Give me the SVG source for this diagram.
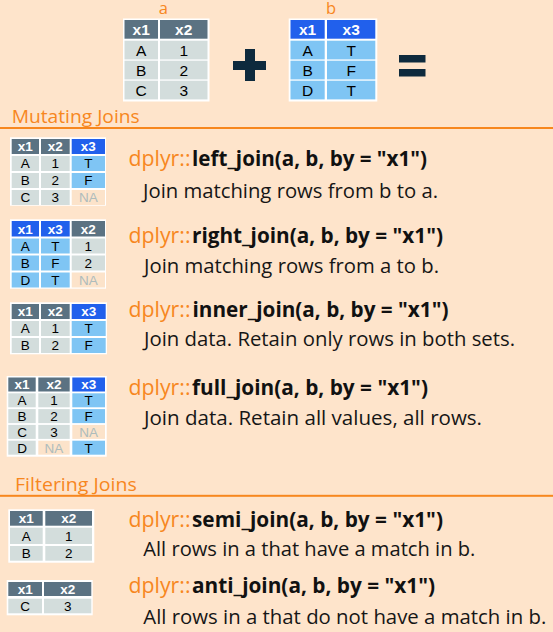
<svg xmlns="http://www.w3.org/2000/svg" width="553" height="632" viewBox="0 0 553 632">
<style>
.bgp{fill:#FEE4CB}
.w{fill:#FFFFFF}
.hg{fill:#5B7282}
.hb{fill:#2160EC}
.cg{fill:#D3DDDC}
.cb{fill:#7FC5F4}
.na{fill:#FCE3CA}
.op{fill:#F7871E}
.t{font-family:"Liberation Sans",Arial,sans-serif;text-anchor:middle}
.ht{fill:#FFFFFF;font-weight:bold}
.bt{fill:#000000}
.nt{fill:#AEBCBC}
.s{font-size:13.5px}
.l{font-size:15.5px}
.lab{font-family:"Open Sans","Noto Sans",sans-serif;font-size:16.5px;fill:#F7871E;text-anchor:middle}
.sec{font-family:"Open Sans","Noto Sans",sans-serif;font-size:19px;fill:#F7871E}
.pk{font-family:"Open Sans","Noto Sans",sans-serif;font-size:22px;fill:#F7871E}
.fn{font-family:"Open Sans","Noto Sans",sans-serif;font-size:22px;font-weight:bold;fill:#111111}
.ds{font-family:"Open Sans","Noto Sans",sans-serif;font-size:20px;fill:#161616}
.dk{fill:#0E2A3D}
</style>
<rect class="bgp" x="0" y="0" width="553" height="632"/>

<g id="top">
<text class="lab" x="163.3" y="13.5">a</text>
<text class="lab" x="331" y="13.5">b</text>
</g>

<g id="table-a">
<rect class="w" x="123" y="18.5" width="86.5" height="83"/>
<rect class="hg" x="124.5" y="20" width="33.5" height="18.7"/><rect class="hg" x="160" y="20" width="47.5" height="18.7"/>
<rect class="cg" x="124.5" y="40.7" width="33.5" height="18.7"/><rect class="cg" x="160" y="40.7" width="47.5" height="18.7"/>
<rect class="cg" x="124.5" y="60.7" width="33.5" height="18.7"/><rect class="cg" x="160" y="60.7" width="47.5" height="18.7"/>
<rect class="cg" x="124.5" y="80.7" width="33.5" height="18.7"/><rect class="cg" x="160" y="80.7" width="47.5" height="18.7"/>
<text class="t l ht" x="141.2" y="34.8">x1</text><text class="t l ht" x="183.7" y="34.8">x2</text>
<text class="t l bt" x="141.2" y="55.5">A</text><text class="t l bt" x="183.7" y="55.5">1</text>
<text class="t l bt" x="141.2" y="75.5">B</text><text class="t l bt" x="183.7" y="75.5">2</text>
<text class="t l bt" x="141.2" y="95.5">C</text><text class="t l bt" x="183.7" y="95.5">3</text>
</g>

<g id="plus"><rect class="dk" x="245" y="49" width="10" height="32"/><rect class="dk" x="233" y="61" width="33" height="9"/></g>

<g id="table-b">
<rect class="w" x="288.7" y="18.5" width="88.6" height="83"/>
<rect class="hb" x="290.5" y="20" width="34.2" height="18.7"/><rect class="hb" x="327" y="20" width="48.3" height="18.7"/>
<rect class="cb" x="290.5" y="40.7" width="34.2" height="18.7"/><rect class="cb" x="327" y="40.7" width="48.3" height="18.7"/>
<rect class="cb" x="290.5" y="60.7" width="34.2" height="18.7"/><rect class="cb" x="327" y="60.7" width="48.3" height="18.7"/>
<rect class="cb" x="290.5" y="80.7" width="34.2" height="18.7"/><rect class="cb" x="327" y="80.7" width="48.3" height="18.7"/>
<text class="t l ht" x="307.6" y="34.8">x1</text><text class="t l ht" x="351.2" y="34.8">x3</text>
<text class="t l bt" x="307.6" y="55.5">A</text><text class="t l bt" x="351.2" y="55.5">T</text>
<text class="t l bt" x="307.6" y="75.5">B</text><text class="t l bt" x="351.2" y="75.5">F</text>
<text class="t l bt" x="307.6" y="95.5">D</text><text class="t l bt" x="351.2" y="95.5">T</text>
</g>

<g id="equals"><rect class="dk" x="399" y="55" width="26.5" height="7.5"/><rect class="dk" x="399" y="69" width="26.5" height="7.5"/></g>

<g id="section-mutating">
<text class="sec" x="11.7" y="123.3" textLength="128" lengthAdjust="spacingAndGlyphs">Mutating Joins</text>
<rect class="op" x="0" y="127" width="553" height="2"/>
</g>

<g id="left-join">
<rect class="w" x="10" y="137.3" width="96" height="68.4"/>
<rect class="hg" x="11.7" y="139" width="27.3" height="15"/><rect class="hg" x="41" y="139" width="28.7" height="15"/><rect class="hb" x="71.7" y="139" width="33.3" height="15"/>
<rect class="cg" x="11.7" y="156" width="27.3" height="15"/><rect class="cg" x="41" y="156" width="28.7" height="15"/><rect class="cb" x="71.7" y="156" width="33.3" height="15"/>
<rect class="cg" x="11.7" y="173" width="27.3" height="15"/><rect class="cg" x="41" y="173" width="28.7" height="15"/><rect class="cb" x="71.7" y="173" width="33.3" height="15"/>
<rect class="cg" x="11.7" y="190" width="27.3" height="15"/><rect class="cg" x="41" y="190" width="28.7" height="15"/><rect class="na" x="71.7" y="190" width="33.3" height="15"/>
<text class="t s ht" x="25.3" y="151.3">x1</text><text class="t s ht" x="55.3" y="151.3">x2</text><text class="t s ht" x="88.3" y="151.3">x3</text>
<text class="t s bt" x="25.3" y="168.3">A</text><text class="t s bt" x="55.3" y="168.3">1</text><text class="t s bt" x="88.3" y="168.3">T</text>
<text class="t s bt" x="25.3" y="185.3">B</text><text class="t s bt" x="55.3" y="185.3">2</text><text class="t s bt" x="88.3" y="185.3">F</text>
<text class="t s bt" x="25.3" y="202.3">C</text><text class="t s bt" x="55.3" y="202.3">3</text><text class="t s nt" x="88.3" y="202.3">NA</text>
<text class="pk" x="128.5" y="166" textLength="62" lengthAdjust="spacingAndGlyphs">dplyr::</text>
<text class="fn" x="192" y="166" textLength="235" lengthAdjust="spacingAndGlyphs">left_join(a, b, by = "x1")</text>
<text class="ds" x="143" y="198" textLength="295" lengthAdjust="spacingAndGlyphs">Join matching rows from b to a.</text>
</g>

<g id="right-join">
<rect class="w" x="10" y="219.3" width="96" height="69.4"/>
<rect class="hb" x="11.7" y="221" width="27.3" height="15.5"/><rect class="hb" x="41" y="221" width="28.7" height="15.5"/><rect class="hg" x="71.7" y="221" width="33.3" height="15.5"/>
<rect class="cb" x="11.7" y="238.5" width="27.3" height="15"/><rect class="cb" x="41" y="238.5" width="28.7" height="15"/><rect class="cg" x="71.7" y="238.5" width="33.3" height="15"/>
<rect class="cb" x="11.7" y="255.5" width="27.3" height="15"/><rect class="cb" x="41" y="255.5" width="28.7" height="15"/><rect class="cg" x="71.7" y="255.5" width="33.3" height="15"/>
<rect class="cb" x="11.7" y="272.5" width="27.3" height="15"/><rect class="cb" x="41" y="272.5" width="28.7" height="15"/><rect class="na" x="71.7" y="272.5" width="33.3" height="15"/>
<text class="t s ht" x="25.3" y="233.5">x1</text><text class="t s ht" x="55.3" y="233.5">x3</text><text class="t s ht" x="88.3" y="233.5">x2</text>
<text class="t s bt" x="25.3" y="250.8">A</text><text class="t s bt" x="55.3" y="250.8">T</text><text class="t s bt" x="88.3" y="250.8">1</text>
<text class="t s bt" x="25.3" y="267.8">B</text><text class="t s bt" x="55.3" y="267.8">F</text><text class="t s bt" x="88.3" y="267.8">2</text>
<text class="t s bt" x="25.3" y="284.8">D</text><text class="t s bt" x="55.3" y="284.8">T</text><text class="t s nt" x="88.3" y="284.8">NA</text>
<text class="pk" x="128.5" y="243.3" textLength="62" lengthAdjust="spacingAndGlyphs">dplyr::</text>
<text class="fn" x="192" y="243.3" textLength="251" lengthAdjust="spacingAndGlyphs">right_join(a, b, by = "x1")</text>
<text class="ds" x="144" y="273.3" textLength="295" lengthAdjust="spacingAndGlyphs">Join matching rows from a to b.</text>
</g>

<g id="inner-join">
<rect class="w" x="10" y="302.3" width="97" height="52"/>
<rect class="hg" x="11.7" y="304" width="27.3" height="15"/><rect class="hg" x="41" y="304" width="28.7" height="15"/><rect class="hb" x="71.7" y="304" width="34" height="15"/>
<rect class="cg" x="11.7" y="321" width="27.3" height="15"/><rect class="cg" x="41" y="321" width="28.7" height="15"/><rect class="cb" x="71.7" y="321" width="34" height="15"/>
<rect class="cg" x="11.7" y="338" width="27.3" height="15"/><rect class="cg" x="41" y="338" width="28.7" height="15"/><rect class="cb" x="71.7" y="338" width="34" height="15"/>
<text class="t s ht" x="25.3" y="316.3">x1</text><text class="t s ht" x="55.3" y="316.3">x2</text><text class="t s ht" x="88.7" y="316.3">x3</text>
<text class="t s bt" x="25.3" y="333.3">A</text><text class="t s bt" x="55.3" y="333.3">1</text><text class="t s bt" x="88.7" y="333.3">T</text>
<text class="t s bt" x="25.3" y="350.3">B</text><text class="t s bt" x="55.3" y="350.3">2</text><text class="t s bt" x="88.7" y="350.3">F</text>
<text class="pk" x="128.5" y="316.7" textLength="62" lengthAdjust="spacingAndGlyphs">dplyr::</text>
<text class="fn" x="192.5" y="316.7" textLength="256" lengthAdjust="spacingAndGlyphs">inner_join(a, b, by = "x1")</text>
<text class="ds" x="144" y="345.7" textLength="371" lengthAdjust="spacingAndGlyphs">Join data. Retain only rows in both sets.</text>
</g>

<g id="full-join">
<rect class="w" x="6.7" y="376" width="100" height="80.7"/>
<rect class="hg" x="8.3" y="377.5" width="27.4" height="14"/><rect class="hg" x="38.3" y="377.5" width="31.4" height="14"/><rect class="hb" x="72.3" y="377.5" width="32.7" height="14"/>
<rect class="cg" x="8.3" y="393.3" width="27.4" height="14"/><rect class="cg" x="38.3" y="393.3" width="31.4" height="14"/><rect class="cb" x="72.3" y="393.3" width="32.7" height="14"/>
<rect class="cg" x="8.3" y="409.1" width="27.4" height="14"/><rect class="cg" x="38.3" y="409.1" width="31.4" height="14"/><rect class="cb" x="72.3" y="409.1" width="32.7" height="14"/>
<rect class="cg" x="8.3" y="424.9" width="27.4" height="14"/><rect class="cg" x="38.3" y="424.9" width="31.4" height="14"/><rect class="na" x="72.3" y="424.9" width="32.7" height="14"/>
<rect class="cg" x="8.3" y="440.7" width="27.4" height="14"/><rect class="na" x="38.3" y="440.7" width="31.4" height="14"/><rect class="cb" x="72.3" y="440.7" width="32.7" height="14"/>
<text class="t s ht" x="22" y="389.3">x1</text><text class="t s ht" x="54" y="389.3">x2</text><text class="t s ht" x="88.7" y="389.3">x3</text>
<text class="t s bt" x="22" y="405.1">A</text><text class="t s bt" x="54" y="405.1">1</text><text class="t s bt" x="88.7" y="405.1">T</text>
<text class="t s bt" x="22" y="420.9">B</text><text class="t s bt" x="54" y="420.9">2</text><text class="t s bt" x="88.7" y="420.9">F</text>
<text class="t s bt" x="22" y="436.7">C</text><text class="t s bt" x="54" y="436.7">3</text><text class="t s nt" x="88.7" y="436.7">NA</text>
<text class="t s bt" x="22" y="452.5">D</text><text class="t s nt" x="54" y="452.5">NA</text><text class="t s bt" x="88.7" y="452.5">T</text>
<text class="pk" x="128.5" y="395" textLength="62" lengthAdjust="spacingAndGlyphs">dplyr::</text>
<text class="fn" x="192" y="395" textLength="236" lengthAdjust="spacingAndGlyphs">full_join(a, b, by = "x1")</text>
<text class="ds" x="144" y="425" textLength="338" lengthAdjust="spacingAndGlyphs">Join data. Retain all values, all rows.</text>
</g>

<g id="section-filtering">
<text class="sec" x="15" y="490.7" textLength="121.7" lengthAdjust="spacingAndGlyphs">Filtering Joins</text>
<rect class="op" x="0" y="494.8" width="553" height="2"/>
</g>

<g id="semi-join">
<rect class="w" x="8.3" y="509.3" width="86" height="53.4"/>
<rect class="hg" x="10" y="511" width="32.7" height="14.7"/><rect class="hg" x="45.3" y="511" width="46.7" height="14.7"/>
<rect class="cg" x="10" y="527.7" width="32.7" height="16.3"/><rect class="cg" x="45.3" y="527.7" width="46.7" height="16.3"/>
<rect class="cg" x="10" y="546" width="32.7" height="14.7"/><rect class="cg" x="45.3" y="546" width="46.7" height="14.7"/>
<text class="t s ht" x="26.3" y="523.1">x1</text><text class="t s ht" x="68.7" y="523.1">x2</text>
<text class="t s bt" x="26.3" y="540.6">A</text><text class="t s bt" x="68.7" y="540.6">1</text>
<text class="t s bt" x="26.3" y="558.1">B</text><text class="t s bt" x="68.7" y="558.1">2</text>
<text class="pk" x="128.5" y="526.7" textLength="62" lengthAdjust="spacingAndGlyphs">dplyr::</text>
<text class="fn" x="192" y="526.7" textLength="251" lengthAdjust="spacingAndGlyphs">semi_join(a, b, by = "x1")</text>
<text class="ds" x="143.3" y="556" textLength="332" lengthAdjust="spacingAndGlyphs">All rows in a that have a match in b.</text>
</g>

<g id="anti-join">
<rect class="w" x="6.7" y="580" width="86" height="35.3"/>
<rect class="hg" x="8.3" y="582" width="33.7" height="14"/><rect class="hg" x="44" y="582" width="47.3" height="14"/>
<rect class="cg" x="8.3" y="598.7" width="33.7" height="14.6"/><rect class="cg" x="44" y="598.7" width="47.3" height="14.6"/>
<text class="t s ht" x="25.2" y="593.8">x1</text><text class="t s ht" x="67.7" y="593.8">x2</text>
<text class="t s bt" x="25.2" y="610.8">C</text><text class="t s bt" x="67.7" y="610.8">3</text>
<text class="pk" x="128.5" y="593.3" textLength="62" lengthAdjust="spacingAndGlyphs">dplyr::</text>
<text class="fn" x="192" y="593.3" textLength="243" lengthAdjust="spacingAndGlyphs">anti_join(a, b, by = "x1")</text>
<text class="ds" x="143.3" y="624" textLength="403" lengthAdjust="spacingAndGlyphs">All rows in a that do not have a match in b.</text>
</g>
</svg>
